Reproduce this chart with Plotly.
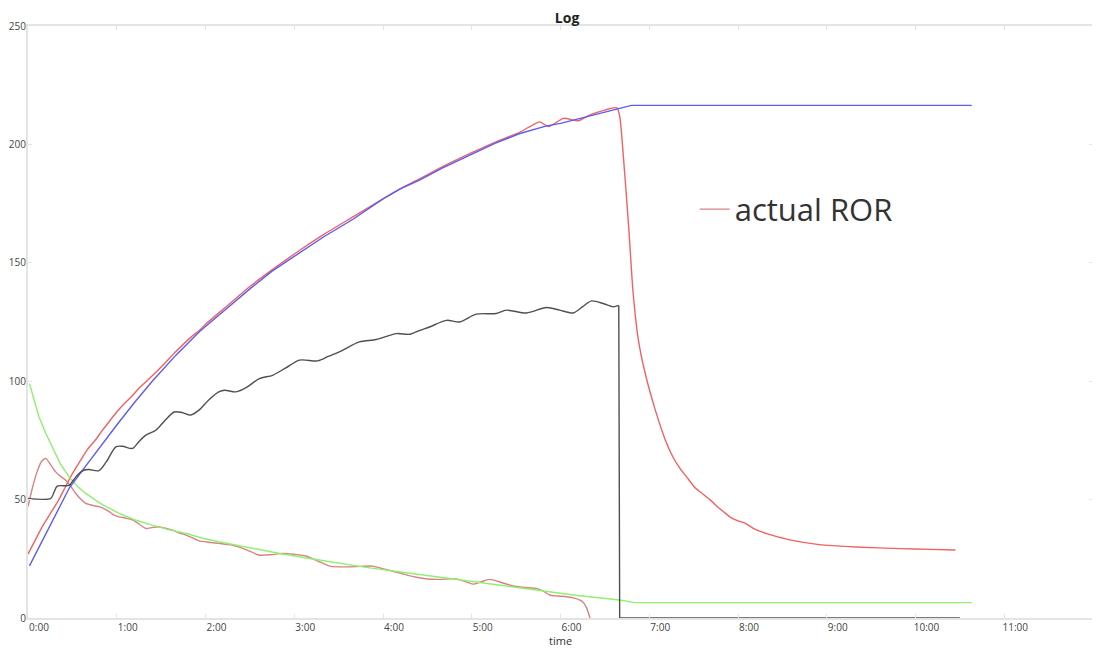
import plotly.graph_objects as go

# time in minutes, values
bt_target_t = [1, 10, 20, 28, 40, 50, 60, 72, 84, 100, 116, 135, 150, 165, 183, 200, 220, 240,
               251, 265, 280, 300, 316, 332, 350, 360, 370, 387, 400, 408, 638]
bt_target_v = [22, 33, 45, 55, 65, 73.5, 81.5, 91, 100, 111, 121, 131, 139, 146.5, 154, 161, 168.5, 177,
               181, 185, 190, 196, 200.5, 204.5, 207.7, 208.9, 210.5, 213.3, 215.3, 216.5, 216.5]

bt_actual_t = [0, 5, 10, 15, 20, 25, 30, 35, 40, 46, 50, 55, 60, 65, 70, 75, 81, 90, 100, 110, 116,
               120, 135, 150, 165, 183, 200, 220, 240, 251, 265, 280, 300, 316, 332, 342, 346, 352,
               362, 372, 380, 390, 398, 400, 402.5, 406, 409, 412.5, 417, 424, 431, 436, 441, 446,
               451, 456, 461, 466, 470, 475, 480, 485, 490, 500, 515, 535, 560, 590, 610, 627]
bt_actual_v = [27, 33, 39, 44, 49, 55, 61, 66, 71, 75.5, 79, 83, 87, 90.5, 93.5, 97, 100.5, 106, 112.5,
               118.5, 121.5, 124, 132, 140, 147, 155, 162, 169.5, 177, 181, 185.5, 190.5, 196.5, 201,
               205, 208.5, 209.5, 207.5, 211, 210, 212.5, 214.5, 215.5, 212, 195, 166, 138, 118, 104,
               88, 75, 68, 63, 59, 55, 52.5, 50, 47, 45, 42.5, 41, 40, 38, 35.5, 33, 31, 30, 29.3,
               29, 28.7]

et_t = [0, 15.4, 17.5, 19.8, 27.8, 31, 34.5, 38, 41.3, 48, 53, 59.4, 64, 70.6, 75, 79.7, 86.4, 92,
        98.8, 104, 110, 116, 122, 129, 133, 140.6, 148, 156.4, 165.4, 174, 183.5, 195.9, 203, 210.5,
        224, 235.4, 249, 258, 265, 271.5, 282.8, 291.8, 303, 316.6, 323.4, 337, 350.5, 359.5,
        368.5, 375, 381, 388.8, 395.6, 399.4, 400, 630]
et_v = [50.5, 50.5, 53, 55.7, 56, 58.5, 61, 62.5, 62.7, 62.2, 66, 72.3, 72.5, 71.6, 74.5, 77.2, 79.3,
        83, 87, 86.8, 85.7, 88, 92, 95.5, 96.2, 95.5, 97.5, 101.1, 102.5, 105.5, 108.9, 108.6, 110.5,
        112.4, 116.6, 117.6, 120.1, 119.8, 121.5, 122.9, 125.7, 125, 128.3, 128.6, 130, 128.8, 131.1,
        130, 128.8, 131.5, 133.9, 132.8, 131.4, 132, 0, 0]

ror_target_t = [1, 4, 7.4, 12, 16.4, 22, 27.8, 33, 39, 50, 61.6, 72, 84, 95, 107, 118, 129, 150, 172,
                200, 228.6, 257, 285, 313, 341, 370, 400, 410, 638]
ror_target_v = [99, 92, 85, 78, 72.3, 65, 59.6, 55.8, 52.6, 48, 44.2, 41.5, 39.2, 37.3, 35.7, 33.7,
                32.2, 29.8, 27, 24.2, 21.4, 19, 16.7, 14.2, 11.8, 9.6, 7.6, 6.5, 6.5]

ror_actual_t = [0, 3, 6, 9, 12, 15, 18.7, 22, 25.5, 29, 32.3, 36, 39, 44, 48, 52, 55, 58, 61.6, 66,
                70.6, 75, 79.7, 84, 88.7, 93, 97.7, 102, 106.8, 111, 115.8, 122, 129, 138, 147, 156,
                164, 172, 180, 188, 196, 204, 210, 217, 225, 233, 242, 251, 257, 262.5, 270, 278, 284,
                289.5, 295, 300.8, 306, 312, 320, 328, 336, 343.7, 348, 352.7, 358, 364, 370, 375,
                377.5, 380]
ror_actual_v = [47, 55, 61.5, 66, 67.4, 65, 61.7, 59.8, 58.2, 55.5, 52.6, 50, 48.4, 47.5, 47, 46, 44.9,
                43.5, 42.7, 42.2, 41.4, 39.7, 37.8, 38.2, 38.5, 37.9, 37.1, 36, 35, 33.9, 32.6, 32,
                31.5, 30.8, 29, 26.6, 26.7, 27.3, 26.9, 26.2, 24, 21.9, 21.6, 21.6, 21.8, 21.9, 20.5,
                19.1, 18, 17.2, 16.5, 16.3, 16.5, 16.5, 15.5, 14.3, 15.2, 16.3, 15, 13.5, 12.9, 12.5,
                11.5, 9.7, 9.3, 9.0, 8.3, 6.9, 4.5, 0]

tick_minutes = [0, 60, 120, 180, 240, 300, 360, 420, 480, 540, 600, 660]
tick_labels = ["0:00", "1:00", "2:00", "3:00", "4:00", "5:00", "6:00", "7:00", "8:00", "9:00",
               "10:00", "11:00"]

FONT = "Open Sans"

fig = go.Figure()

fig.add_trace(go.Scatter(x=ror_actual_t, y=ror_actual_v, mode="lines", name="actual ROR",
                         line=dict(color="#d98282", width=1.4, shape="spline", smoothing=0.6)))
fig.add_trace(go.Scatter(x=bt_actual_t, y=bt_actual_v, mode="lines", name="actual",
                         line=dict(color="#f06262", width=1.4, shape="spline", smoothing=0.6),
                         showlegend=False))
fig.add_trace(go.Scatter(x=ror_target_t, y=ror_target_v, mode="lines", name="target ROR",
                         line=dict(color="#8ff070", width=1.4),
                         showlegend=False))
fig.add_trace(go.Scatter(x=bt_target_t, y=bt_target_v, mode="lines", name="target",
                         line=dict(color="#5c5cf5", width=1.4),
                         showlegend=False))
# spline for the wavy part, plain segment for the drop at the end
fig.add_trace(go.Scatter(x=et_t[:-2], y=et_v[:-2], mode="lines", name="env",
                         line=dict(color="#505050", width=1.4, shape="spline", smoothing=0.8),
                         showlegend=False))
fig.add_trace(go.Scatter(x=et_t[-3:], y=et_v[-3:], mode="lines", name="env drop",
                         line=dict(color="#505050", width=1.4),
                         showlegend=False))

axis_common = dict(
    showgrid=False,
    zeroline=False,
    showline=True,
    linecolor="#e4e4e4",
    linewidth=2,
    mirror="ticks",
    ticks="inside",
    ticklen=4,
    tickcolor="#e4e4e4",
    tickfont=dict(family=FONT, size=10, color="#444"),
    automargin=False,
)

fig.update_xaxes(
    range=[0, 720],
    tickvals=tick_minutes,
    ticktext=tick_labels,
    ticklabelshift=11,
    ticklabelstandoff=-1,
    **axis_common,
)
fig.update_yaxes(
    range=[0, 250],
    tickvals=[0, 50, 100, 150, 200, 250],
    ticklabelstandoff=-2,
    **axis_common,
)

# x axis title sits tight under the tick labels
fig.add_annotation(text="time", xref="paper", yref="paper", x=0.5, y=0, yanchor="top",
                   yshift=-13, showarrow=False,
                   font=dict(family=FONT, size=11, color="#333"))

# page body adds an 8px margin, so the figure is 8px smaller than the window
fig.update_layout(
    width=1092,
    height=641,
    paper_bgcolor="white",
    plot_bgcolor="white",
    margin=dict(l=20, r=7, t=18, b=31),
    title=dict(text="<b>Log</b>", x=0.512, xanchor="center", y=0.992, yanchor="top",
               font=dict(family=FONT, size=14, color="#222")),
    showlegend=True,
    legend=dict(x=0.626, y=0.69, xanchor="left", yanchor="middle",
                bgcolor="rgba(0,0,0,0)", itemwidth=30,
                font=dict(family=FONT, size=31, color="#333")),
)

fig.write_html("out.html")
